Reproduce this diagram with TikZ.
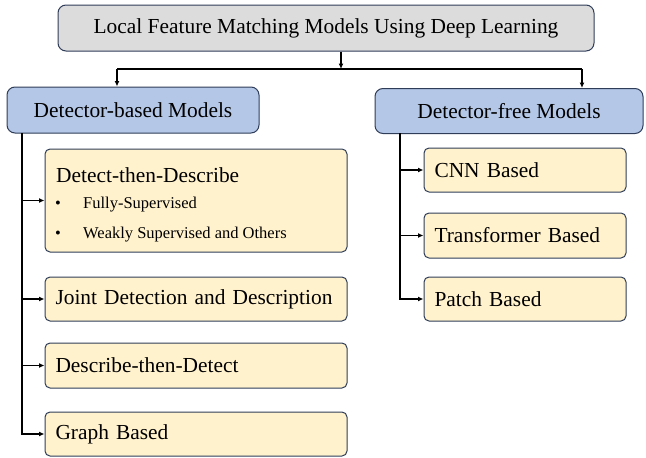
\documentclass[tikz,border=0pt]{standalone}
\usepackage{fontspec}
\setmainfont{Liberation Serif}
\usetikzlibrary{arrows.meta}
\definecolor{edge}{HTML}{2F3D58}
\definecolor{grayfill}{HTML}{DCDCDC}
\definecolor{bluefill}{HTML}{B4C7E7}
\definecolor{yellowfill}{HTML}{FFF2CC}
\begin{document}
\begin{tikzpicture}[x=1pt,y=-1pt,
  box/.style={draw=edge, line width=1pt, rounded corners=8pt, inner sep=0pt},
  topbox/.style={box, fill=grayfill, font=\fontsize{21.4}{24}\selectfont},
  catbox/.style={box, fill=bluefill, font=\fontsize{21.4}{24}\selectfont},
  leafbox/.style={box, fill=yellowfill, rounded corners=5pt, font=\fontsize{21.4}{24}\selectfont,
    align=left, inner xsep=10.5pt},
  bigtext/.style={font=\fontsize{21.4}{24}\selectfont, inner sep=0pt},
  smalltext/.style={font=\fontsize{16.5}{19}\selectfont, inner sep=0pt},
  conn/.style={line width=1.4pt, black},
  arr/.style={conn, -{Latex[length=5.5pt,width=5pt]}}]
\useasboundingbox (0,0) rectangle (646,458);

\node[topbox, minimum width=536pt, minimum height=46pt] (top) at (326,28)
  {Local Feature Matching Models Using Deep Learning};
\node[catbox, minimum width=252pt, minimum height=46pt] (db) at (133,110) {Detector-based Models};
\node[catbox, minimum width=268pt, minimum height=45pt] (df) at (509,111) {Detector-free Models};

% left leaves
\node[leafbox, minimum width=302pt, minimum height=103pt] (dtd) at (196,200.5) {};
\node[bigtext, anchor=base west] (dtdt) at (56,182) {Detect-then-Describe};
\node[smalltext, anchor=base west] (b1) at (55,208) {\makebox[28pt][l]{•}Fully-Supervised};
\node[smalltext, anchor=base west] (b2) at (55,238) {\makebox[28pt][l]{•}Weakly Supervised and Others};
\node[leafbox, text width=281pt, minimum height=44pt] (jd) at (196,299) {Joint Detection and Description};
\node[leafbox, text width=281pt, minimum height=45pt] (dd) at (196,365.5) {Describe-then-Detect};
\node[leafbox, text width=281pt, minimum height=44pt] (gb) at (196,434) {Graph Based};

% right leaves
\node[leafbox, text width=181pt, minimum height=44pt] (cnn) at (525,170) {CNN Based};
\node[leafbox, text width=181pt, minimum height=45pt] (tb) at (525,235.5) {Transformer Based};
\node[leafbox, text width=181pt, minimum height=44pt] (pb) at (525,299) {Patch Based};

% top connectors
\coordinate (j) at (341,69);
\coordinate (jl) at (117,69);
\coordinate (jr) at (582,69);
\draw[arr] (top.south -| j) -- (j);
\draw[conn] (jl) -- (jr);
\draw[arr] (jl) -- (jl |- db.north);
\draw[arr] (jr) -- (jr |- df.north);

% left trunk
\coordinate (lt) at (22,133);
\draw[arr] (lt) -- (lt |- gb.west) -- (gb.west);
\draw[arr] (lt |- dtd.west) -- (dtd.west);
\draw[arr] (lt |- jd.west) -- (jd.west);
\draw[arr] (lt |- dd.west) -- (dd.west);

% right trunk
\coordinate (rt) at (400,133);
\draw[arr] (rt) -- (rt |- pb.west) -- (pb.west);
\draw[arr] (rt |- cnn.west) -- (cnn.west);
\draw[arr] (rt |- tb.west) -- (tb.west);
\end{tikzpicture}
\end{document}
